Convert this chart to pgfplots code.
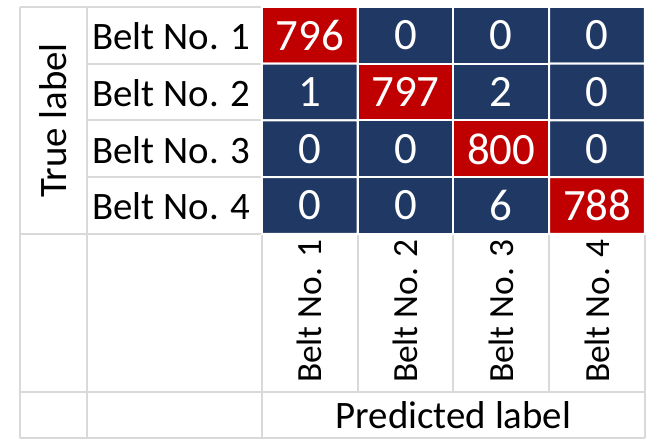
\documentclass[border=0pt]{standalone}
\usepackage{fontspec}
\setmainfont{Carlito}
\usepackage{pgfplots}
\pgfplotsset{compat=1.18}
\definecolor{cmnavy}{RGB}{32,56,100}
\definecolor{cmred}{RGB}{192,0,0}
\definecolor{gridgrey}{RGB}{217,217,217}
\newcommand{\lbl}{\fontsize{39}{46}\selectfont}
\begin{document}
\begin{tikzpicture}
\begin{axis}[
  scale only axis, width=383bp, height=227bp,
  xmin=-0.5, xmax=3.5, ymin=-0.5, ymax=3.5, y dir=reverse,
  clip=false,
  axis line style={draw=none}, tick style={draw=none},
  xtick={0,1,2,3}, ytick={0,1,2,3},
  xticklabels={Belt No. 1,Belt No. 2,Belt No. 3,Belt No. 4},
  yticklabels={Belt No. 1,Belt No. 2,Belt No. 3,Belt No. 4},
  tick label style={font=\lbl},
  xticklabel style={rotate=90, anchor=east, inner sep=0pt, font=\fontsize{35.5}{42}\selectfont},
  xticklabel shift=5bp,
  yticklabel style={anchor=center, inner sep=0pt, xshift=-90.5bp, yshift=-1bp},
  label style={font=\lbl},
  ylabel={True label},
  ylabel style={at={(axis description cs:-0.5444,0.5)}, anchor=center},
  xlabel={Predicted label},
  xlabel style={at={(axis description cs:0.5,-0.855)}, anchor=base},
  colormap={cm}{color(0)=(cmnavy) color(400)=(cmnavy) color(401)=(cmred) color(800)=(cmred)},
  point meta min=0, point meta max=800,
  /pgf/number format/assume math mode=true,
]
% table grid outside the matrix
\draw[gridgrey, line width=2bp]
  (axis cs:-3.027,-0.5) -- (axis cs:-0.5,-0.5)
  (axis cs:-2.328,0.5) -- (axis cs:-0.5,0.5)
  (axis cs:-2.328,1.5) -- (axis cs:-0.5,1.5)
  (axis cs:-2.328,2.5) -- (axis cs:-0.5,2.5)
  (axis cs:-3.027,3.5) -- (axis cs:3.5,3.5)
  (axis cs:-3.027,6.284) -- (axis cs:3.5,6.284)
  (axis cs:-3.027,7.095) -- (axis cs:3.5,7.095)
  (axis cs:-3.027,-0.5) -- (axis cs:-3.027,7.095)
  (axis cs:-2.328,-0.5) -- (axis cs:-2.328,7.095)
  (axis cs:-0.5,3.5) -- (axis cs:-0.5,7.095)
  (axis cs:0.5,3.5) -- (axis cs:0.5,6.284)
  (axis cs:1.5,3.5) -- (axis cs:1.5,6.284)
  (axis cs:2.5,3.5) -- (axis cs:2.5,6.284)
  (axis cs:3.5,3.5) -- (axis cs:3.5,7.095);
\path (axis cs:-3.236,-0.623) rectangle (axis cs:3.584,7.200);
\addplot[matrix plot*, mesh/cols=4, point meta=explicit,
  shader=faceted, faceted color=white, line width=2bp,
  nodes near coords,
  nodes near coords style={anchor=center, text=white, font=\fontsize{45}{52}\selectfont}]
  table[meta=v] {
x y v
0 0 796
1 0 0
2 0 0
3 0 0
0 1 1
1 1 797
2 1 2
3 1 0
0 2 0
1 2 0
2 2 800
3 2 0
0 3 0
1 3 0
2 3 6
3 3 788
};
\end{axis}
\end{tikzpicture}
\end{document}
